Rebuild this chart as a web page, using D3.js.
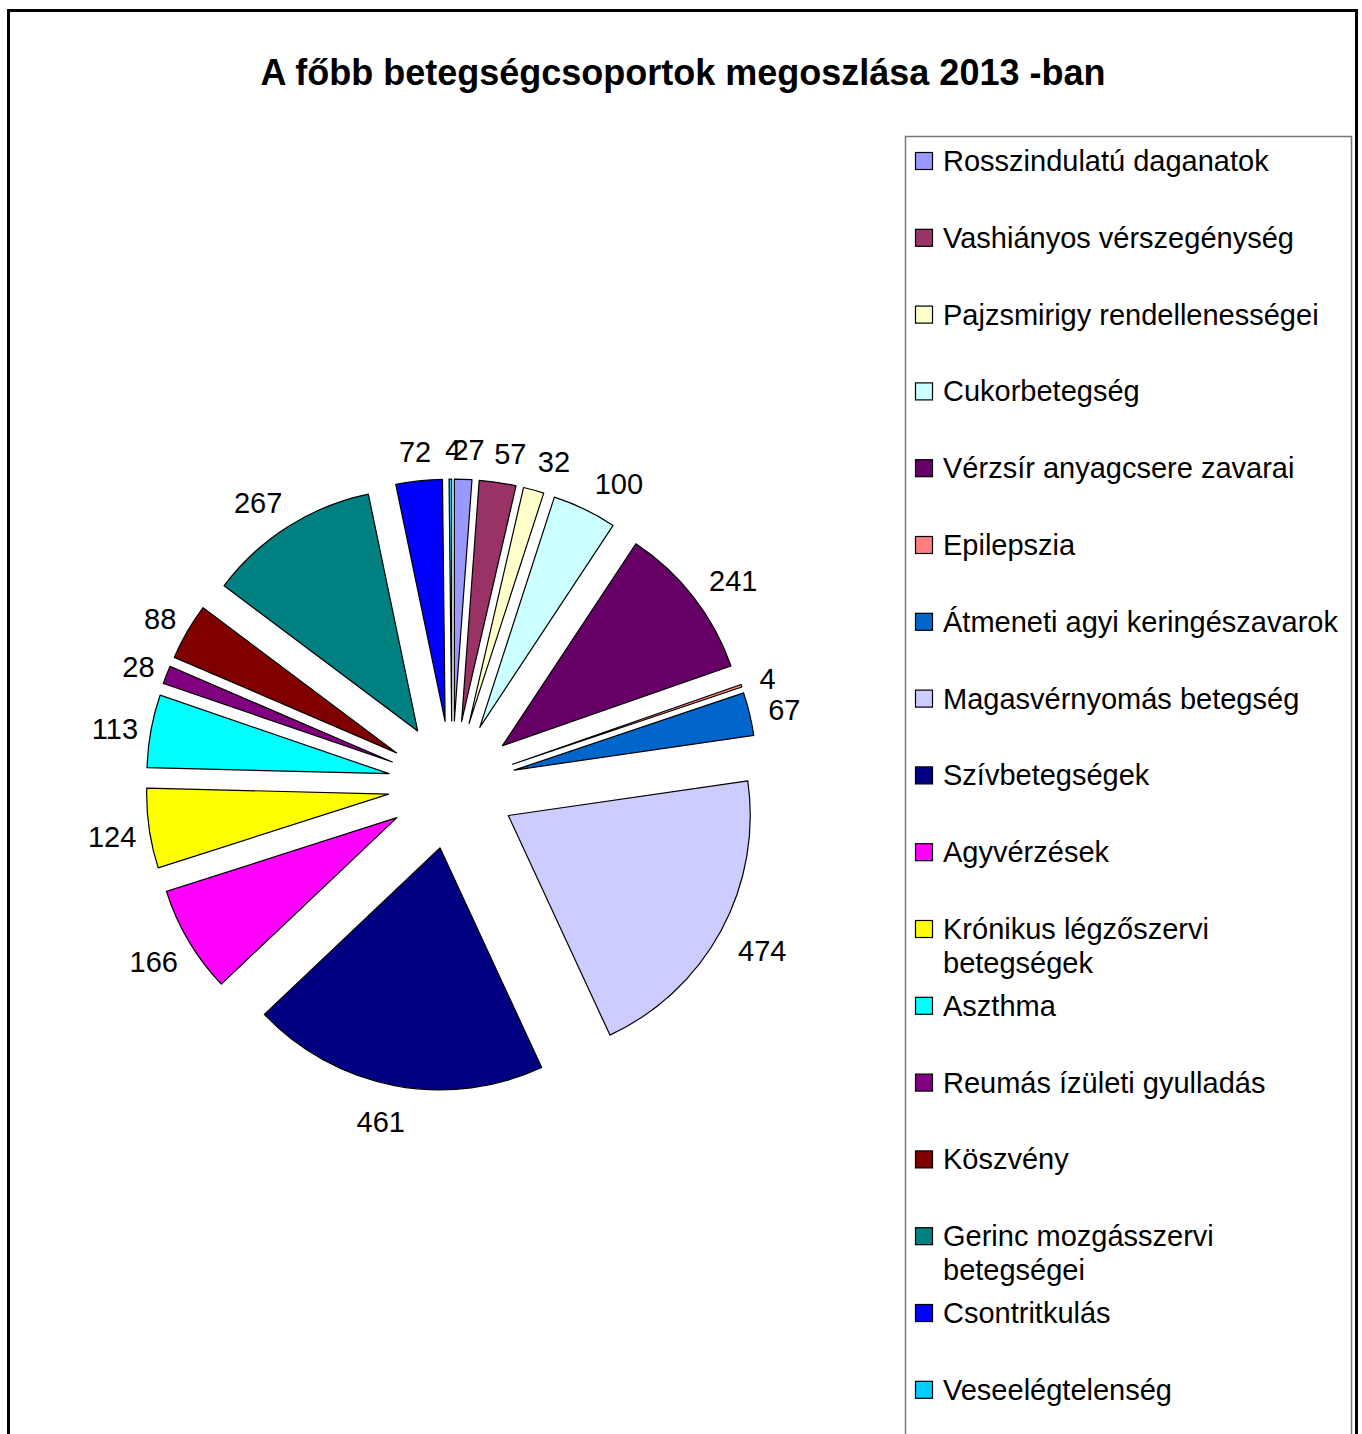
<!DOCTYPE html>
<html>
<head>
<meta charset="utf-8">
<script src="https://cdn.jsdelivr.net/npm/d3@7"></script>
<style>
  body { margin: 0; background: #fff; }
  text { font-family: Arial, "Liberation Sans", sans-serif; }
</style>
</head>
<body>
<svg id="my_svg"></svg>
<script>
const width = 1362;
const height = 1434;

// adatok
const categories = [
    'Rosszindulatú daganatok', 'Vashiányos vérszegénység', 'Pajzsmirigy rendellenességei',
    'Cukorbetegség', 'Vérzsír anyagcsere zavarai', 'Epilepszia', 'Átmeneti agyi keringészavarok',
    'Magasvérnyomás betegség', 'Szívbetegségek', 'Agyvérzések', 'Krónikus légzőszervi betegségek',
    'Aszthma', 'Reumás ízületi gyulladás', 'Köszvény', 'Gerinc mozgásszervi betegségei',
    'Csontritkulás', 'Veseelégtelenség'
];
const values = [27, 57, 32, 100, 241, 4, 67, 474, 461, 166, 124, 113, 28, 88, 267, 72, 4];
// legend sorok tördelése
const legendLines = [
    ['Rosszindulatú daganatok'], ['Vashiányos vérszegénység'], ['Pajzsmirigy rendellenességei'],
    ['Cukorbetegség'], ['Vérzsír anyagcsere zavarai'], ['Epilepszia'], ['Átmeneti agyi keringészavarok'],
    ['Magasvérnyomás betegség'], ['Szívbetegségek'], ['Agyvérzések'], ['Krónikus légzőszervi', 'betegségek'],
    ['Aszthma'], ['Reumás ízületi gyulladás'], ['Köszvény'], ['Gerinc mozgásszervi', 'betegségei'],
    ['Csontritkulás'], ['Veseelégtelenség']
];
const palette = [
    '#9999ff', '#993366', '#ffffcc', '#ccffff', '#660066', '#ff8080', '#0066cc', '#ccccff',
    '#000080', '#ff00ff', '#ffff00', '#00ffff', '#800080', '#800000', '#008080', '#0000ff', '#00ccff'
];

const data = categories.map((c, i) => ({name: c, value: values[i], color: palette[i], lines: legendLines[i]}));

const svg = d3.select('#my_svg')
    .attr('width', width)
    .attr('height', height);

// keret
svg.append('rect')
    .attr('x', 8.5)
    .attr('y', 10.5)
    .attr('width', 1348)
    .attr('height', 1450)
    .attr('fill', '#fff')
    .attr('stroke', '#000')
    .attr('stroke-width', 3);

svg.append('text')
    .attr('x', 683)
    .attr('y', 72)
    .attr('text-anchor', 'middle')
    .attr('dominant-baseline', 'central')
    .attr('font-size', 36)
    .attr('font-weight', 'bold')
    .text('A főbb betegségcsoportok megoszlása 2013 -ban');

// kör
const cx = 452, cy = 785;
const radius = 242;
const explode = 64;
const labelR = 322;

const pie = d3.pie().sort(null).value(d => d.value);
const arc = d3.arc().innerRadius(0).outerRadius(radius);
const arcs = pie(data);

const pie_g = svg.append('g')
    .attr('transform', `translate(${cx}, ${cy})`);

const dir = d => {
    const a = (d.startAngle + d.endAngle) / 2;
    return [Math.sin(a), -Math.cos(a)];
};

pie_g.selectAll('path')
    .data(arcs)
    .enter().append('path')
    .attr('d', arc)
    .attr('transform', d => {
        const [dx, dy] = dir(d);
        return `translate(${dx * explode}, ${dy * explode})`;
    })
    .attr('fill', d => d.data.color)
    .attr('stroke', '#000')
    .attr('stroke-width', 1.2)
    .attr('stroke-linejoin', 'round');

// címkék a szeletek mellett
pie_g.selectAll('.lbl')
    .data(arcs)
    .enter().append('text')
    .attr('class', 'lbl')
    .attr('font-size', 29)
    .attr('text-anchor', 'middle')
    .attr('dominant-baseline', 'central')
    .text(d => d.data.value)
    .each(function (d) {
        const [dx, dy] = dir(d);
        const halfW = this.getComputedTextLength() / 2;
        d3.select(this)
            .attr('x', 3 + dx * labelR + Math.sign(dx) * halfW * Math.min(1, 3 * Math.abs(dx)))
            .attr('y', 4 + dy * labelR + dy * 17);
    });

// jelmagyarázat
svg.append('rect')
    .attr('x', 905.5)
    .attr('y', 136.5)
    .attr('width', 446)
    .attr('height', 1400)
    .attr('fill', 'none')
    .attr('stroke', '#777')
    .attr('stroke-width', 1.5);

const legendY = d3.scaleLinear().domain([0, 1]).range([161, 237.8]);

const leg = svg.selectAll('.legend')
    .data(data)
    .enter().append('g')
    .attr('class', 'legend')
    .attr('transform', (d, i) => `translate(915, ${legendY(i)})`);

leg.append('rect')
    .attr('x', 0.5)
    .attr('y', -8.5)
    .attr('width', 17)
    .attr('height', 17)
    .attr('fill', d => d.color)
    .attr('stroke', '#000')
    .attr('stroke-width', 1.2);

leg.append('text')
    .attr('x', 28)
    .attr('font-size', 29)
    .selectAll('tspan')
    .data(d => d.lines)
    .enter().append('tspan')
    .attr('x', 28)
    .attr('y', (d, j) => j * 34)
    .attr('dominant-baseline', 'central')
    .text(d => d);
</script>
</body>
</html>
